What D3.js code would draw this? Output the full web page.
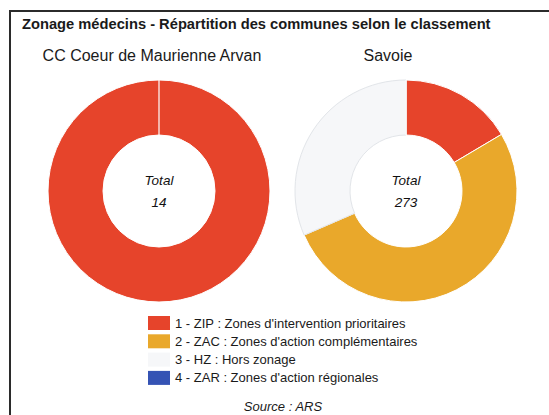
<!DOCTYPE html>
<html lang="fr">
<head>
<meta charset="UTF-8">
<title>Zonage médecins</title>
<style>
  body { margin: 0; background: #fff; font-family: "Liberation Sans", Arial, sans-serif; }
  svg { display: block; }
</style>
</head>
<body>
<svg id="chart" width="549" height="415"></svg>
<script src="https://cdn.jsdelivr.net/npm/d3@7"></script>
<script>
// categories and values
const categories = ["1 - ZIP : Zones d'intervention prioritaires",
                    "2 - ZAC : Zones d'action complémentaires",
                    "3 - HZ : Hors zonage",
                    "4 - ZAR : Zones d'action régionales"];
const colors = ["#e6442b", "#e9a82b", "#f6f7f9", "#3553b4"];
const territories = ["CC Coeur de Maurienne Arvan", "Savoie"];
const valuesCC = [14, 0, 0, 0];
const valuesSavoie = [45, 142, 86, 0];

const svg = d3.select("#chart");

// frame: top and left rules
svg.append("line").attr("x1", 10).attr("x2", 549).attr("y1", 11).attr("y2", 11)
  .attr("stroke", "#2b2b2b").attr("stroke-width", 2);
svg.append("line").attr("x1", 10).attr("x2", 10).attr("y1", 10).attr("y2", 415)
  .attr("stroke", "#2b2b2b").attr("stroke-width", 2);

svg.append("text").attr("x", 22).attr("y", 29)
  .attr("font-size", 14.7).attr("font-weight", "bold").attr("fill", "#1a1a1a")
  .text("Zonage médecins - Répartition des communes selon le classement");

const color = d3.scaleOrdinal().domain(categories).range(colors);
const pie = d3.pie().sort(null).value(d => d.v);
const arc = d3.arc().innerRadius(56).outerRadius(111);

const panels = [
  {name: territories[0], values: valuesCC, cx: 159, cy: 191, tx: 152},
  {name: territories[1], values: valuesSavoie, cx: 406, cy: 191, tx: 388}
];

panels.forEach(p => {
  svg.append("text").attr("x", p.tx).attr("y", 61).attr("text-anchor", "middle")
    .attr("font-size", 16).attr("fill", "#1a1a1a").text(p.name);

  const g = svg.append("g").attr("transform", `translate(${p.cx},${p.cy})`);
  const data = categories.map((c, i) => ({c, v: p.values[i]}));
  g.selectAll("path").data(pie(data).filter(d => d.data.v > 0)).join("path")
    .attr("d", arc)
    .attr("fill", d => color(d.data.c))
    .attr("stroke", d => d.data.c.startsWith("3") ? "#e2e5e9" : "#fff")
    .attr("stroke-width", 1);
  // thin separator at 12 o'clock
  g.append("line").attr("x1", 0).attr("x2", 0).attr("y1", -56).attr("y2", -111)
    .attr("stroke", "#fff").attr("stroke-width", 1.2);

  const total = d3.sum(p.values);
  g.append("text").attr("y", -6).attr("text-anchor", "middle").attr("font-size", 13.5)
    .attr("font-style", "italic").attr("fill", "#111").text("Total");
  g.append("text").attr("y", 16).attr("text-anchor", "middle").attr("font-size", 13.5)
    .attr("font-style", "italic").attr("fill", "#111").text(total);
});

// legend
const legend = svg.append("g").attr("transform", "translate(148,316)");
const row = legend.selectAll("g").data(categories).join("g")
  .attr("transform", (d, i) => `translate(0,${i * 18.3})`);
row.append("rect").attr("width", 22).attr("height", 14)
  .attr("fill", d => color(d));
row.append("text").attr("x", 27).attr("y", 11.5).attr("font-size", 13)
  .attr("fill", "#1a1a1a").text(d => d);

svg.append("text").attr("x", 283).attr("y", 411).attr("text-anchor", "middle")
  .attr("font-size", 13).attr("font-style", "italic").attr("fill", "#1a1a1a")
  .text("Source : ARS");
</script>
</body>
</html>
